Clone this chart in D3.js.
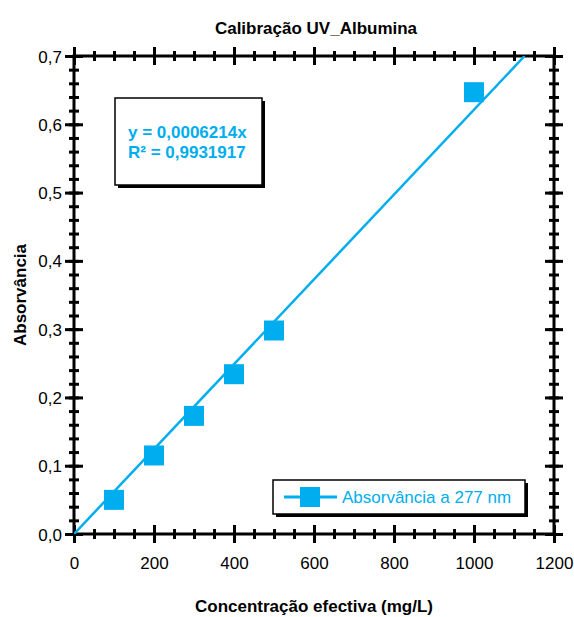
<!DOCTYPE html>
<html>
<head>
<meta charset="utf-8">
<script src="https://cdn.jsdelivr.net/npm/d3@7"></script>
<style>
  body { margin: 0; background: #fff; }
  text { font-family: "Liberation Sans", Arial, sans-serif; }
</style>
</head>
<body>
<div id="chart"></div>
<script>
// calibration data
var concentracao = [100, 200, 300, 400, 500, 1000];
var absorvancia = [0.050, 0.115, 0.173, 0.234, 0.298, 0.647];
var slope = 0.0006214;
var eqLines = ["y = 0,0006214x", "R\u00b2 = 0,9931917"];
var xTicks = [0, 200, 400, 600, 800, 1000, 1200];
var yTicks = [0, 0.1, 0.2, 0.3, 0.4, 0.5, 0.6, 0.7];
var seriesName = "Absorv\u00e2ncia a 277 nm";

var blue = "#00aeef";
var width = 574, height = 617;
// plot edges (not "top": that name is taken by window.top)
var pLeft = 74, pRight = 554, pTop = 56, pBottom = 534;

var svg = d3.select("#chart").append("svg")
    .attr("width", width)
    .attr("height", height);

var x = d3.scaleLinear().domain([0, 1200]).range([pLeft, pRight]);
var y = d3.scaleLinear().domain([0, 0.7]).range([pBottom, pTop]);

var fmtY = function (d) { return d3.format(".1f")(d).replace(".", ","); };

// crossing ticks: extend every tick line to both sides of the axis
function crossTicks(g, size, horizontal) {
    g.selectAll(".tick line")
        .attr("stroke", "#000")
        .attr("stroke-width", 3)
        .attr(horizontal ? "y1" : "x1", -size)
        .attr(horizontal ? "y2" : "x2", size);
    g.select(".domain").remove();
}

var xMinor = d3.range(0, 1201, 50);
var yMinor = d3.range(0, 36).map(function (i) { return i * 0.02; });

// frame
svg.append("rect")
    .attr("x", pLeft).attr("y", pTop)
    .attr("width", pRight - pLeft).attr("height", pBottom - pTop)
    .attr("fill", "none").attr("stroke", "#000").attr("stroke-width", 3);

// minor ticks, four sides
[[d3.axisBottom, pBottom], [d3.axisTop, pTop]].forEach(function (a) {
    svg.append("g").attr("transform", "translate(0," + a[1] + ")")
        .call(a[0](x).tickValues(xMinor).tickFormat(""))
        .call(function (g) { crossTicks(g, 5, true); });
});
[[d3.axisLeft, pLeft], [d3.axisRight, pRight]].forEach(function (a) {
    svg.append("g").attr("transform", "translate(" + a[1] + ",0)")
        .call(a[0](y).tickValues(yMinor).tickFormat(""))
        .call(function (g) { crossTicks(g, 5, false); });
});

// major ticks
svg.append("g").attr("transform", "translate(0," + pBottom + ")")
    .call(d3.axisBottom(x).tickValues(xTicks).tickFormat(d3.format("d")))
    .call(function (g) {
        crossTicks(g, 9, true);
        g.selectAll("text").attr("y", 0).attr("dy", 35)
            .attr("font-size", 17).attr("fill", "#000")
            .style("font-family", "'Liberation Sans', Arial, sans-serif");
    });
svg.append("g").attr("transform", "translate(0," + pTop + ")")
    .call(d3.axisTop(x).tickValues(xTicks).tickFormat(""))
    .call(function (g) { crossTicks(g, 9, true); });
svg.append("g").attr("transform", "translate(" + pLeft + ",0)")
    .call(d3.axisLeft(y).tickValues(yTicks).tickFormat(fmtY))
    .call(function (g) {
        crossTicks(g, 9, false);
        g.selectAll("text").attr("x", -12).attr("dy", "0.36em")
            .attr("font-size", 17).attr("fill", "#000")
            .style("font-family", "'Liberation Sans', Arial, sans-serif");
    });
svg.append("g").attr("transform", "translate(" + pRight + ",0)")
    .call(d3.axisRight(y).tickValues(yTicks).tickFormat(""))
    .call(function (g) { crossTicks(g, 9, false); });

// trend line y = slope * x, clipped to plot
svg.append("clipPath").attr("id", "plot")
    .append("rect").attr("x", pLeft).attr("y", pTop)
    .attr("width", pRight - pLeft).attr("height", pBottom - pTop);

var xEnd = 0.7 / slope;
svg.append("line")
    .attr("clip-path", "url(#plot)")
    .attr("x1", x(0)).attr("y1", y(0))
    .attr("x2", x(xEnd)).attr("y2", y(slope * xEnd))
    .attr("stroke", blue).attr("stroke-width", 2.5);

// markers
svg.selectAll(".pt")
    .data(concentracao)
    .enter().append("rect")
    .attr("class", "pt")
    .attr("x", function (d) { return x(d) - 10; })
    .attr("y", function (d, i) { return y(absorvancia[i]) - 10; })
    .attr("width", 20).attr("height", 20)
    .attr("fill", blue);

// boxes with a black drop shadow
function shadowBox(bx, by, bw, bh) {
    svg.append("rect").attr("x", bx + 3).attr("y", by + 3)
        .attr("width", bw).attr("height", bh).attr("fill", "#000");
    svg.append("rect").attr("x", bx).attr("y", by)
        .attr("width", bw).attr("height", bh)
        .attr("fill", "#fff").attr("stroke", "#000").attr("stroke-width", 1.5);
}

// equation box
shadowBox(115, 98, 147, 87);
svg.selectAll(".eq")
    .data(eqLines)
    .enter().append("text")
    .attr("x", 128)
    .attr("y", function (d, i) { return 138 + i * 20; })
    .attr("font-size", 17).attr("font-weight", "bold")
    .attr("fill", blue)
    .text(function (d) { return d; });

// legend
shadowBox(273, 480, 252, 34);
svg.append("line")
    .attr("x1", 284).attr("x2", 337).attr("y1", 497).attr("y2", 497)
    .attr("stroke", blue).attr("stroke-width", 3);
svg.append("rect")
    .attr("x", 300).attr("y", 487).attr("width", 20).attr("height", 20)
    .attr("fill", blue);
svg.append("text")
    .attr("x", 342).attr("y", 503)
    .attr("font-size", 17).attr("fill", blue)
    .text(seriesName);

// titles
svg.append("text")
    .attr("x", (pLeft + pRight) / 2 + 2).attr("y", 34)
    .attr("text-anchor", "middle")
    .attr("font-size", 17).attr("font-weight", "bold")
    .text("Calibra\u00e7\u00e3o UV_Albumina");

svg.append("text")
    .attr("x", (pLeft + pRight) / 2).attr("y", 612)
    .attr("text-anchor", "middle")
    .attr("font-size", 17).attr("font-weight", "bold")
    .text("Concentra\u00e7\u00e3o efectiva (mg/L)");

svg.append("text")
    .attr("transform", "translate(26," + (pTop + pBottom) / 2 + ") rotate(-90)")
    .attr("text-anchor", "middle")
    .attr("font-size", 17).attr("font-weight", "bold")
    .text("Absorv\u00e2ncia");
</script>
</body>
</html>
